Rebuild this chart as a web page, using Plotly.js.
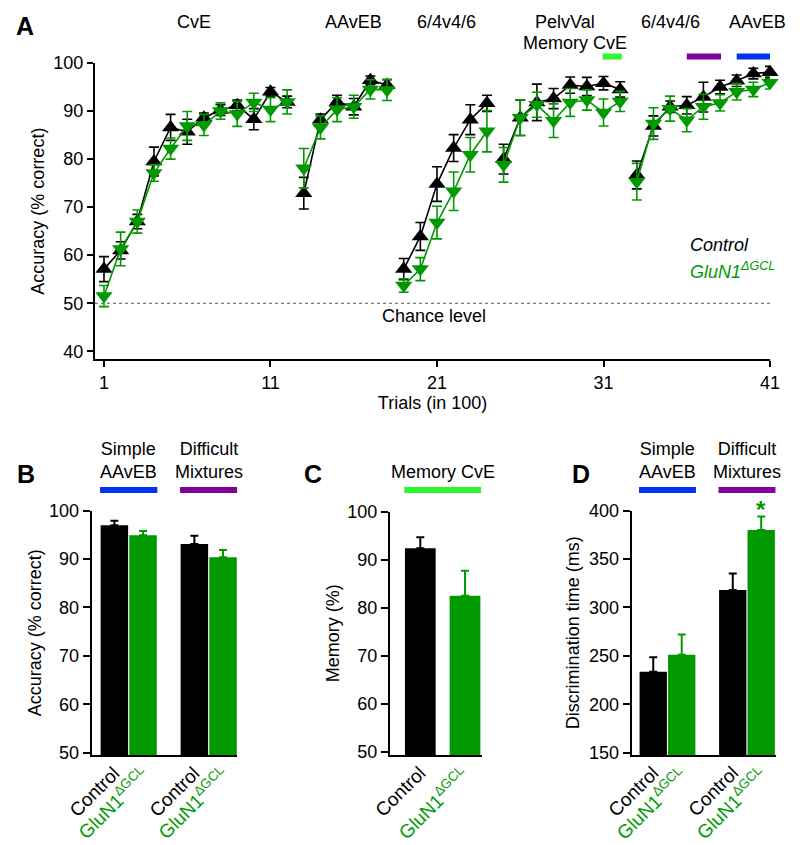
<!DOCTYPE html>
<html>
<head>
<meta charset="utf-8">
<script src="https://cdn.plot.ly/plotly-3.0.1.min.js"></script>
<style>html,body{margin:0;padding:0;background:#fff;}#chart{width:800px;height:845px;}</style>
</head>
<body>
<div id="chart"></div>
<script>
// ---------- Panel A data ----------
const trials = [1,2,3,4,5,6,7,8,9,10,11,12,13,14,15,16,17,18,19,20,21,22,23,24,25,26,27,28,29,30,31,32,33,34,35,36,37,38,39,40,41];
const segmentStarts = [1, 13, 19, 25, 33];
const controlAcc = [57.1,61.0,67.0,79.5,86.6,85.7,88.6,90.2,91.2,88.3,94.0,91.9,
                    72.9,88.2,91.9,90.9,96.4,95.4,
                    57.1,63.9,74.8,82.3,88.2,91.6,
                    80.0,88.6,91.8,92.6,95.4,95.1,95.8,94.5,
                    76.7,86.9,90.9,91.2,92.9,95.0,96.3,97.8,98.1];
const controlErr = [2.6,1.8,1.5,3.0,2.7,2.6,1.0,1.1,1.1,2.2,0.9,1.2,
                    3.3,1.2,1.4,1.7,0.9,1.1,
                    2.2,2.9,3.6,2.8,3.1,1.7,
                    3.1,3.7,3.8,2.1,1.7,1.9,1.4,1.6,
                    2.9,2.1,1.2,1.8,3.1,1.4,1.2,1.1,1.2];
const glunAcc = [51.5,61.3,67.0,77.1,82.2,86.9,87.1,90.0,89.4,91.8,90.3,91.9,
                 78.1,86.6,90.3,90.9,94.5,94.4,
                 53.7,57.1,66.8,73.3,80.9,85.8,
                 78.8,88.6,91.3,88.0,91.8,92.3,89.7,92.0,
                 75.3,87.4,90.5,88.1,90.9,91.7,94.0,94.5,95.9];
const glunErr = [2.2,3.5,2.4,1.7,2.2,3.0,2.2,1.7,2.6,1.9,2.5,2.5,
                 4.1,2.4,2.5,2.4,2.0,2.2,
                 1.4,2.4,3.4,4.0,3.6,4.3,
                 3.6,3.7,2.6,3.5,2.9,2.1,2.8,2.1,
                 3.8,3.3,2.6,2.4,2.6,1.7,1.7,1.5,1.3];
const taskLabels = ["CvE","AAvEB","6/4v4/6","PelvVal","6/4v4/6","AAvEB"];
const taskLabelTrials = [6.4,16.0,21.6,28.7,35.0,40.25];

// ---------- Panel B data ----------
const bGroups = ["Simple AAvEB","Difficult Mixtures"];
const bControl = [97.0, 93.1];
const bControlErr = [0.9, 1.7];
const bGlun = [94.9, 90.4];
const bGlunErr = [0.9, 1.5];

// ---------- Panel C data ----------
const cGroups = ["Control","GluN1"];
const cControl = [92.4];
const cControlErr = [2.3];
const cGlun = [82.5];
const cGlunErr = [5.2];

// ---------- Panel D data ----------
const dGroups = ["Simple AAvEB","Difficult Mixtures"];
const dControl = [233.7, 318.1];
const dControlErr = [15, 17];
const dGlun = [251.2, 380.1];
const dGlunErr = [21, 14];

// ---------- styles ----------
const GREEN = "#009a00";
const FONT = "Liberation Sans, Arial, Helvetica, sans-serif";
const BLUE = "#0433f0";
const PURPLE = "#80009a";
const LIME = "#2ef52e";
const GLUN_LEG = "<i>GluN1</i><sup><i>ΔGCL</i></sup>";
const GLUN_TICK = "GluN1<sup>ΔGCL</sup>";

function gapped(arr) {
  const out = [];
  trials.forEach((t, i) => {
    if (i > 0 && segmentStarts.includes(t)) out.push(null);
    out.push(arr[i]);
  });
  return out;
}
const zeros = a => a.map(() => 0);

const traces = [
  {
    x: gapped(trials), y: gapped(controlAcc), xaxis: "x", yaxis: "y",
    type: "scatter", mode: "lines+markers", connectgaps: false, cliponaxis: false,
    line: {color: "black", width: 1.6},
    marker: {symbol: "triangle-up", size: 15, color: "black"},
    error_y: {type: "data", array: gapped(controlErr), color: "black", thickness: 1.6, width: 5}
  },
  {
    x: gapped(trials), y: gapped(glunAcc), xaxis: "x", yaxis: "y",
    type: "scatter", mode: "lines+markers", connectgaps: false, cliponaxis: false,
    line: {color: GREEN, width: 1.6},
    marker: {symbol: "triangle-down", size: 15, color: GREEN},
    error_y: {type: "data", array: gapped(glunErr), color: GREEN, thickness: 1.6, width: 5}
  },
  // B
  {
    x: bGroups, y: bControl, xaxis: "x2", yaxis: "y2", type: "bar", offsetgroup: "ctl",
    marker: {color: "black"}, cliponaxis: false,
    error_y: {type: "data", symmetric: false, array: bControlErr, arrayminus: zeros(bControlErr), color: "black", thickness: 2, width: 4}
  },
  {
    x: bGroups, y: bGlun, xaxis: "x2", yaxis: "y2", type: "bar", offsetgroup: "glun",
    marker: {color: GREEN}, cliponaxis: false,
    error_y: {type: "data", symmetric: false, array: bGlunErr, arrayminus: zeros(bGlunErr), color: GREEN, thickness: 2, width: 4}
  },
  // C
  {
    x: [cGroups[0]], y: cControl, xaxis: "x3", yaxis: "y3", type: "bar", offsetgroup: "mem",
    marker: {color: "black"}, cliponaxis: false,
    error_y: {type: "data", symmetric: false, array: cControlErr, arrayminus: zeros(cControlErr), color: "black", thickness: 2, width: 4}
  },
  {
    x: [cGroups[1]], y: cGlun, xaxis: "x3", yaxis: "y3", type: "bar", offsetgroup: "mem",
    marker: {color: GREEN}, cliponaxis: false,
    error_y: {type: "data", symmetric: false, array: cGlunErr, arrayminus: zeros(cGlunErr), color: GREEN, thickness: 2, width: 4}
  },
  // D
  {
    x: dGroups, y: dControl, xaxis: "x4", yaxis: "y4", type: "bar", offsetgroup: "ctl",
    marker: {color: "black"}, cliponaxis: false,
    error_y: {type: "data", symmetric: false, array: dControlErr, arrayminus: zeros(dControlErr), color: "black", thickness: 2, width: 4}
  },
  {
    x: dGroups, y: dGlun, xaxis: "x4", yaxis: "y4", type: "bar", offsetgroup: "glun",
    marker: {color: GREEN}, cliponaxis: false,
    error_y: {type: "data", symmetric: false, array: dGlunErr, arrayminus: zeros(dGlunErr), color: GREEN, thickness: 2, width: 4}
  }
];

const H = 845;
const py = p => 1 - p / H;   // pixel row -> paper y
const axBase = {
  showline: true, linewidth: 2, linecolor: "black", ticks: "outside", ticklen: 6, tickwidth: 2,
  tickcolor: "black", showgrid: false, zeroline: false, fixedrange: true,
  tickfont: {size: 18, color: "black", family: FONT}
};
const yTitle = (t, s) => ({text: t, font: {size: 18, color: "black", family: FONT}, standoff: s});

const layout = {
  width: 800, height: 845,
  margin: {l: 0, r: 0, t: 0, b: 0},
  paper_bgcolor: "white", plot_bgcolor: "rgba(0,0,0,0)",
  showlegend: false,
  barmode: "group", bargap: 0.284, bargroupgap: 0.04,
  font: {family: FONT, size: 18, color: "black"},
  xaxis: Object.assign({}, axBase, {
    domain: [95/800, 770/800], range: [0.46, 41], anchor: "y",
    tickvals: [1, 11, 21, 31, 41],
    title: {text: "Trials (in 100)", font: {size: 18, color: "black", family: FONT}, standoff: 4}
  }),
  yaxis: Object.assign({}, axBase, {
    domain: [py(359.3), py(63)], range: [38.33, 100], anchor: "x",
    tickvals: [40, 50, 60, 70, 80, 90, 100],
    title: yTitle("Accuracy (% correct)", 4)
  }),
  xaxis2: Object.assign({}, axBase, {
    domain: [91.7/800, 237.3/800], range: [-0.4625, 1.3575], anchor: "y2",
    type: "category", ticks: "", showticklabels: false
  }),
  yaxis2: Object.assign({}, axBase, {
    domain: [py(755), py(510.7)], range: [49.5, 100], anchor: "x2",
    tickvals: [50, 60, 70, 80, 90, 100], ticklen: 7,
    title: yTitle("Accuracy (% correct)", 3)
  }),
  xaxis3: Object.assign({}, axBase, {
    domain: [390/800, 481.7/800], range: [-0.678, 1.373], anchor: "y3",
    type: "category", ticks: "", showticklabels: false
  }),
  yaxis3: Object.assign({}, axBase, {
    domain: [py(755), py(511.7)], range: [49.3, 100], anchor: "x3",
    tickvals: [50, 60, 70, 80, 90, 100], ticklen: 7,
    title: yTitle("Memory (%)", 3)
  }),
  xaxis4: Object.assign({}, axBase, {
    domain: [631.7/800, 776/800], range: [-0.45, 1.365], anchor: "y4",
    type: "category", ticks: "", showticklabels: false
  }),
  yaxis4: Object.assign({}, axBase, {
    domain: [py(755), py(510.7)], range: [147.6, 400], anchor: "x4",
    tickvals: [150, 200, 250, 300, 350, 400], ticklen: 7,
    title: yTitle("Discrimination time (ms)", 5)
  }),
  shapes: [],
  annotations: []
};

// chance line
layout.shapes.push({type: "line", xref: "x domain", yref: "y", x0: 0, x1: 1, y0: 50, y1: 50,
  line: {color: "#555", width: 1.2, dash: "3px,3px"}});
// colour bars panel A
const barY0 = py(59.5), barY1 = py(53.5);
[[30.95, 32.1, LIME], [36.0, 38.06, PURPLE], [39.0, 41.04, BLUE]].forEach(b => {
  layout.shapes.push({type: "rect", xref: "x", yref: "paper", x0: b[0], x1: b[1], y0: barY0, y1: barY1,
    fillcolor: b[2], line: {width: 0}});
});
// colour bars panels B, C, D
const sb0 = py(493), sb1 = py(487);
[["x2", -0.358, 0.358, BLUE], ["x2", 0.642, 1.358, PURPLE],
 ["x3", -0.358, 1.358, LIME],
 ["x4", -0.358, 0.358, BLUE], ["x4", 0.642, 1.358, PURPLE]].forEach(b => {
  layout.shapes.push({type: "rect", xref: b[0], yref: "paper", x0: b[1], x1: b[2], y0: sb0, y1: sb1,
    fillcolor: b[3], line: {width: 0}});
});

const ann = layout.annotations;
const txt = (o) => ann.push(Object.assign({showarrow: false, font: {size: 18, color: "black", family: FONT}}, o));

// panel letters
[["A", 14, 26.5], ["B", 15, 474], ["C", 302, 474], ["D", 570, 474]].forEach(l => {
  txt({text: "<b>" + l[0] + "</b>", xref: "paper", yref: "paper", x: l[1]/800, y: py(l[2]),
    xanchor: "left", yanchor: "middle", font: {size: 25, color: "black", family: FONT}});
});
// task labels
taskLabels.forEach((t, i) => {
  txt({text: t, xref: "x", yref: "paper", x: taskLabelTrials[i], y: py(22), xanchor: "center", yanchor: "middle"});
});
txt({text: "Memory CvE", xref: "x", yref: "paper", x: 29.3, y: py(43), xanchor: "center", yanchor: "middle"});
// legend text
txt({text: "<i>Control</i>", xref: "paper", yref: "paper", x: 688/800, y: py(245), xanchor: "left", yanchor: "middle"});
txt({text: GLUN_LEG, xref: "paper", yref: "paper", x: 688/800, y: py(270), xanchor: "left", yanchor: "middle",
  font: {size: 18, color: GREEN, family: FONT}});
// chance level
txt({text: "Chance level", xref: "x", yref: "y", x: 20.8, y: 50, xanchor: "center", yanchor: "top", yshift: -1});

// headers B / D
["x2", "x4"].forEach(xr => {
  txt({text: "Simple<br>AAvEB", xref: xr, yref: "paper", x: 0, y: py(460), xanchor: "center", yanchor: "middle"});
  txt({text: "Difficult<br>Mixtures", xref: xr, yref: "paper", x: 1, y: py(460), xanchor: "center", yanchor: "middle"});
});
txt({text: "Memory CvE", xref: "x3", yref: "paper", x: 0.5, y: py(472), xanchor: "center", yanchor: "middle"});

// rotated category labels
const yLab = py(755);
const rotLab = (xr, x, shift, isGlun) => txt({
  text: isGlun ? GLUN_TICK : "Control", xref: xr, yref: "paper", x: x, y: yLab,
  xshift: shift, yshift: -5, xanchor: "right", yanchor: "top", textangle: -45,
  font: {size: 19, color: isGlun ? GREEN : "black", family: FONT}
});
["x2", "x4"].forEach(xr => {
  [0, 1].forEach(g => { rotLab(xr, g, -2, false); rotLab(xr, g, 27, true); });
});
rotLab("x3", 0, 12, false);
rotLab("x3", 1, 11, true);

// significance star
txt({text: "<b>*</b>", xref: "x4", yref: "y4", x: 1, xshift: 14.3, y: dGlun[1] + dGlunErr[1],
  xanchor: "center", yanchor: "bottom", yshift: -9, font: {size: 24, color: GREEN, family: FONT}});

Plotly.newPlot("chart", traces, layout, {staticPlot: true, displayModeBar: false});
</script>
</body>
</html>
